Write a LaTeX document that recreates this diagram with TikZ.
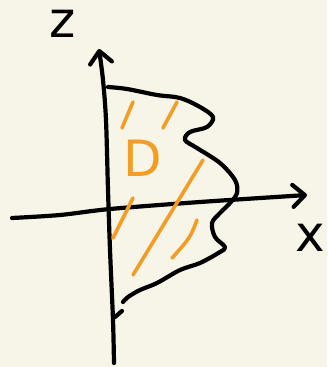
\documentclass[tikz,border=0pt]{standalone}
\usepackage{fontspec}
\setsansfont{DejaVu Sans}
\usetikzlibrary{arrows.meta}
\definecolor{paper}{RGB}{247,245,232}
\definecolor{marker}{RGB}{244,157,38}
\tikzset{
  ink/.style={line width=4.2pt, line cap=round, line join=round},
  hatch/.style={marker, line width=3.6pt, line cap=round, line join=round},
  axistip/.style={-{Straight Barb[length=12pt, width=22pt, line cap=round, line join=round]}},
  lab/.style={inner sep=0pt, font=\sffamily\fontsize{50}{50}\selectfont}
}
\begin{document}
\begin{tikzpicture}[x=1pt, y=-1pt]
  % Paper
  \fill[paper] (0,0) rectangle (327,367);
  \useasboundingbox (0,0) rectangle (327,367);
  % Labels
  \node[lab] (zlab) at (63,24) {z};
  \node[lab] (xlab) at (310,238) {x};
  \node[lab, marker] (dlab) at (143,158) {D};
  % Axes
  \draw[ink, axistip] plot[smooth, tension=0.5] coordinates
    {(114,363) (113,320) (110,250) (108,190) (106,120) (103,80) (99,49)};
  \draw[ink, axistip] plot[smooth, tension=0.5] coordinates
    {(12,218) (60,215) (110,209) (200,202) (307,195)};
  % Boundary of D
  \draw[ink] plot[smooth, tension=0.55] coordinates
    {(108,87) (127,89) (157,95) (180,98) (200,107) (213,117) (207,127)
     (190,132) (185,140) (197,148) (220,163) (235,180) (237,193) (230,203)
     (220,213) (212,223) (215,237) (225,247) (220,252) (200,263) (180,270)
     (157,283) (140,290) (128,297) (123,302)};
  \draw[ink] (122,311) -- (115,317);
  % Hatching
  \foreach \xa/\ya/\xb/\yb in {133/102/122/128, 177/102/163/128, 203/160/133/275, 133/198/113/238}
    \draw[hatch] (\xa,\ya) -- (\xb,\yb);
  \draw[hatch] (197,220) .. controls (190,238) .. (172,258);
\end{tikzpicture}
\end{document}
